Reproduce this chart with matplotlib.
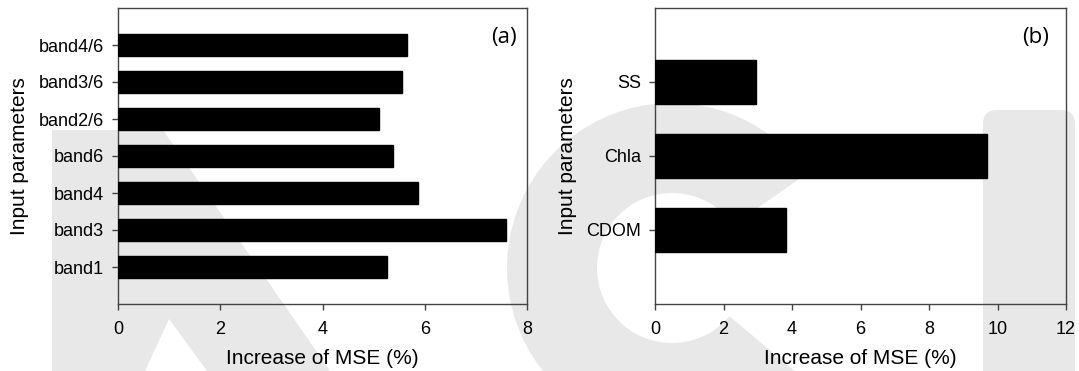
import matplotlib
matplotlib.use("Agg")
import matplotlib.pyplot as plt
from matplotlib.patches import Polygon, Wedge, FancyBboxPatch
import numpy as np

# Panel (a)
cats_a = ["band1", "band3", "band4", "band6", "band2/6", "band3/6", "band4/6"]
vals_a = [5.27, 7.58, 5.86, 5.37, 5.11, 5.56, 5.65]
xticks_a = [0, 2, 4, 6, 8]

# Panel (b)
cats_b = ["CDOM", "Chla", "SS"]
vals_b = [3.82, 9.69, 2.95]
xticks_b = [0, 2, 4, 6, 8, 10, 12]

W, H = 1079, 371
fig = plt.figure(figsize=(W / 100, H / 100), dpi=100)

tick_font = "Liberation Sans"
label_font = "Liberation Sans"
tag_font = "Open Sans"
spine_col = "#444444"
wm_col = "#e8e8e8"

# background watermark layer (pixel coordinates)
bg = fig.add_axes([0, 0, 1, 1], zorder=-5)
bg.set_xlim(0, W)
bg.set_ylim(H, 0)
bg.axis("off")
bg.add_patch(Polygon([(52, 130), (163, 130), (330, 371), (207, 371),
                      (169, 319), (145, 371), (52, 371)],
                     closed=True, facecolor=wm_col, edgecolor="none"))
bg.add_patch(Wedge((672, 268), 165, 40, 325, width=90,
                   facecolor=wm_col, edgecolor="none"))
bg.add_patch(FancyBboxPatch((983, 110), 92, 300,
                            boxstyle="round,pad=0,rounding_size=14",
                            facecolor=wm_col, edgecolor="none"))


def panel(rect, cats, vals, xticks, xmax, tag, tagx):
    ax = fig.add_axes(rect)
    ax.set_facecolor("none")
    pos = np.arange(1, len(cats) + 1)
    ax.barh(pos, vals, height=0.6, color="black", edgecolor="black", zorder=3)
    ax.set_ylim(0, len(cats) + 1)
    ax.set_xlim(0, xmax)
    ax.set_yticks(pos)
    ax.set_yticklabels(cats, fontfamily=tick_font, fontsize=13)
    ax.set_xticks(xticks)
    ax.set_xticklabels([str(t) for t in xticks], fontfamily=tick_font, fontsize=13)
    ax.tick_params(axis="both", direction="out", length=4, width=1,
                   color=spine_col, pad=6)
    ax.tick_params(axis="x", pad=8)
    for s in ax.spines.values():
        s.set_color(spine_col)
        s.set_linewidth(1.0)
    ax.set_xlabel("Increase of MSE (%)", fontfamily=label_font, fontsize=15,
                  labelpad=8)
    ax.set_ylabel("Input parameters", fontfamily=label_font, fontsize=15,
                  labelpad=7)
    ax.text(tagx, 0.902, tag, transform=ax.transAxes, ha="right", va="center",
            fontfamily=tag_font, fontsize=16)
    return ax


panel([118 / W, 1 - 304 / H, 409 / W, 296 / H], cats_a, vals_a, xticks_a, 8, "(a)", 0.976)
panel([655 / W, 1 - 304 / H, 411 / W, 296 / H], cats_b, vals_b, xticks_b, 12, "(b)", 0.958)

fig.savefig("out.png", dpi=100, facecolor="white")
